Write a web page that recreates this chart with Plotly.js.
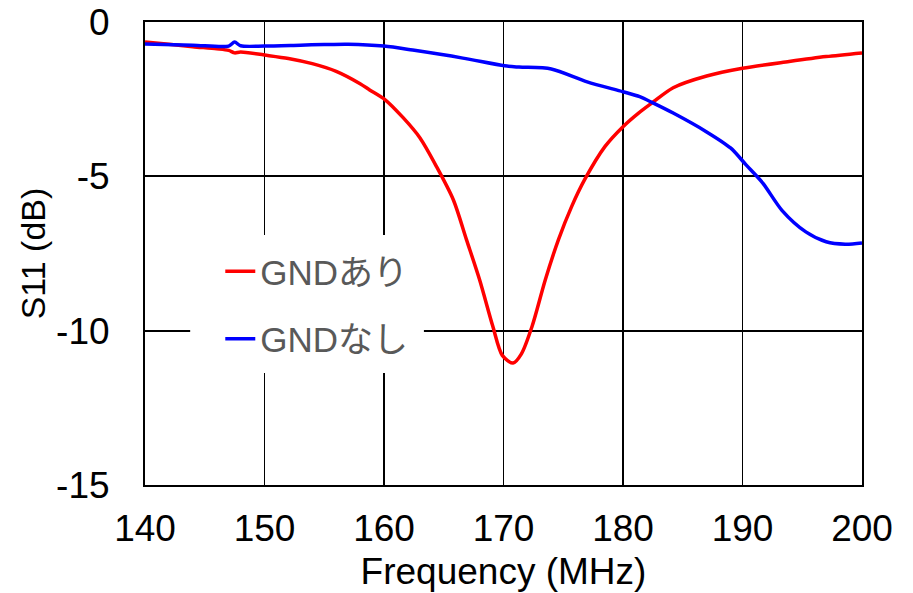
<!DOCTYPE html>
<html>
<head>
<meta charset="utf-8">
<script src="https://cdn.plot.ly/plotly-3.0.1.min.js"></script>
<style>html,body{margin:0;padding:0;background:#fff;}#chart{width:913px;height:593px;}</style>
</head>
<body>
<div id="chart"></div>
<script>
const freqA = [140,142,144,146,147,147.5,148,150,152,154,156,158,158.8,160.1,161.6,163,164.4,165.8,166.9,168,169.1,169.9,170.8,171.5,172.4,173.5,174.6,175.7,176.8,178.5,180,181.3,182.5,184.2,187,190,193.9,197,200];
const s11A  = [-0.65,-0.72,-0.8,-0.87,-0.92,-1.0,-0.97,-1.07,-1.18,-1.35,-1.6,-2.0,-2.2,-2.52,-3.1,-3.75,-4.69,-5.76,-7.05,-8.35,-9.85,-10.8,-11.05,-10.75,-9.85,-8.35,-7.05,-5.98,-5.1,-4.03,-3.39,-2.95,-2.6,-2.13,-1.75,-1.5,-1.28,-1.12,-1.0];
const freqB = [140,144,147,147.5,148,150,153,155,157,160,162.4,166.6,170.1,171.3,174,177,180,181.4,182.5,184.2,187,189,190.3,191.7,193.3,195.3,197,198.6,200];
const s11B  = [-0.71,-0.75,-0.78,-0.65,-0.77,-0.78,-0.75,-0.73,-0.72,-0.78,-0.91,-1.17,-1.42,-1.46,-1.52,-1.94,-2.26,-2.42,-2.62,-2.95,-3.56,-4.08,-4.63,-5.22,-6.1,-6.8,-7.12,-7.2,-7.16];
const seriesNames = ["GNDあり","GNDなし"];
const xTickVals = [140,150,160,170,180,190,200];
const yTickVals = [0,-5,-10,-15];
const yTickText = ["0","-5","-10","-15"];

const FONT = "Liberation Sans, Arial, Noto Sans CJK JP, sans-serif";
const traces = [
  {x:freqA, y:s11A, name:seriesNames[0], type:"scatter", mode:"lines",
   line:{color:"#ff0000", width:3.5, shape:"spline", smoothing:0.8}, legendgroup:"a"},
  {x:freqB, y:s11B, name:seriesNames[1], type:"scatter", mode:"lines",
   line:{color:"#0000ff", width:3.5, shape:"spline", smoothing:0.8}, legendgroup:"b"}
];
const layout = {
  width:913, height:593,
  margin:{l:145, r:51, t:22, b:108},
  paper_bgcolor:"#fff", plot_bgcolor:"#fff",
  font:{family:FONT, color:"#000", size:37},
  showlegend:true,
  legend:{x:0.105, y:0.525, xanchor:"left", yanchor:"top", bgcolor:"rgba(0,0,0,0)",
    font:{family:FONT, size:35, color:"#595959"}, tracegroupgap:19, borderwidth:0},
  shapes:[{type:"rect", xref:"paper", yref:"paper", x0:0.063, x1:0.389, y0:0.242, y1:0.54,
    fillcolor:"#fff", line:{width:0}, layer:"above"}],
  xaxis:{range:[140,200], tickvals:xTickVals, ticks:"", showgrid:true, gridcolor:"#000", gridwidth:1.8,
    showline:true, mirror:true, linecolor:"#000", linewidth:2, zeroline:false,
    tickfont:{size:37, family:FONT, color:"#000"}, ticklabelstandoff:10,
    title:{text:"Frequency (MHz)", font:{size:37, family:FONT, color:"#000"}, standoff:10}},
  yaxis:{range:[-15,0], tickvals:yTickVals, ticktext:yTickText, ticks:"", showgrid:true, gridcolor:"#000", gridwidth:1.8,
    showline:true, mirror:true, linecolor:"#000", linewidth:2, zeroline:false,
    tickfont:{size:37, family:FONT, color:"#000"}, ticklabelstandoff:26,
    title:{text:"S11 (dB)", font:{size:34, family:FONT, color:"#000"}, standoff:0}}
};
Plotly.newPlot("chart", traces, layout, {displayModeBar:false, staticPlot:true});
</script>
</body>
</html>
